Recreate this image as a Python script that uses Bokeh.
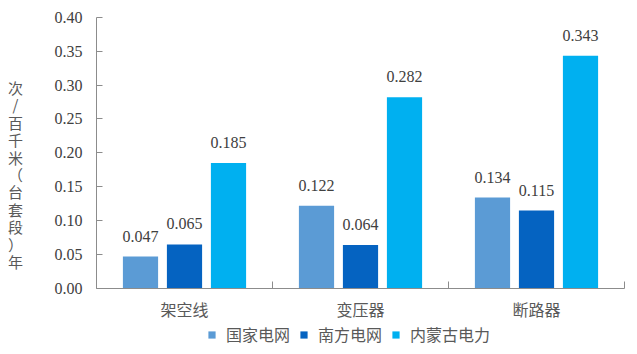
from bokeh.plotting import figure
from bokeh.models import (ColumnDataSource, FixedTicker, LabelSet, Label, Legend,
                          LegendItem, NumeralTickFormatter, Range1d)
from bokeh.embed import file_html
from bokeh.resources import INLINE

categories = ["架空线", "变压器", "断路器"]
series_names = ["国家电网", "南方电网", "内蒙古电力"]
guojia = [0.047, 0.122, 0.134]
nanfang = [0.065, 0.064, 0.115]
neimenggu = [0.185, 0.282, 0.343]
y_ticks = [0.00, 0.05, 0.10, 0.15, 0.20, 0.25, 0.30, 0.35, 0.40]
y_title = "次/百千米（台套段）年"
colors = ["#5B9BD5", "#0563C1", "#00B0F0"]

series = [guojia, nanfang, neimenggu]

# layout (pixels) of the plotting area inside the 637x354 canvas
W, H = 637, 354
L, R, T, B = 96, 624, 16.7, 288
n = len(categories)
ymax = y_ticks[-1]
sx = (R - L) / n          # px per category
sy = (B - T) / ymax       # px per unit


def xd(px):
    return (px - L) / sx


def yd(py):
    return (B - py) / sy


p = figure(width=W, height=H, output_backend="svg", toolbar_location=None,
           x_range=Range1d(xd(0), xd(W)), y_range=Range1d(yd(H), yd(0)),
           min_border=0)
p.outline_line_color = None
p.grid.visible = False
p.background_fill_color = "white"
p.border_fill_color = "white"

CJK = "Noto Sans CJK SC"
SERIF = "Liberation Serif"
TXT = "#595959"
AX = "#8C8C8C"

items = []
for j, (name, vals, col) in enumerate(zip(series_names, series, colors)):
    xs = [i + 0.5 + (j - 1) * 0.25 for i in range(n)]
    src = ColumnDataSource(dict(x=xs, top=vals, label=[f"{v:.3f}" for v in vals]))
    r = p.vbar(x="x", top="top", width=0.2, source=src, fill_color=col, line_color=None)
    items.append(LegendItem(label=name, renderers=[r]))
    labels = LabelSet(x="x", y="top", text="label", source=src, text_align="center",
                      text_baseline="alphabetic", y_offset=15,
                      text_font=SERIF, text_font_size="16px", text_color="#404040")
    p.add_layout(labels)

# x axis
xa = p.xaxis[0]
xa.fixed_location = 0
xa.bounds = (0, n)
xa.ticker = FixedTicker(ticks=[i + 0.5 for i in range(n)],
                        minor_ticks=list(range(n + 1)))
xa.major_label_overrides = {i + 0.5: c for i, c in enumerate(categories)}
xa.major_tick_in = 0
xa.major_tick_out = 0
xa.minor_tick_in = 7
xa.minor_tick_out = 0
xa.minor_tick_line_color = AX
xa.axis_line_color = AX
xa.major_label_standoff = 8
xa.major_label_text_font = CJK
xa.major_label_text_font_size = "16px"
xa.major_label_text_color = TXT

# y axis
ya = p.yaxis[0]
ya.fixed_location = 0
ya.bounds = (0, ymax)
ya.ticker = FixedTicker(ticks=y_ticks, minor_ticks=[])
ya.formatter = NumeralTickFormatter(format="0.00")
ya.major_tick_in = 6
ya.major_tick_out = 0
ya.minor_tick_line_color = None
ya.major_tick_line_color = AX
ya.axis_line_color = AX
ya.major_label_standoff = 14
ya.major_label_text_font = SERIF
ya.major_label_text_font_size = "16px"
ya.major_label_text_color = "#404040"

# vertical y title
p.add_layout(Label(x=xd(15), y=yd(174), text="\n".join(y_title), text_align="center",
                   text_baseline="middle", text_font=CJK, text_font_size="15px",
                   text_color=TXT, text_line_height=0.83))

legend = Legend(items=items, orientation="horizontal", location=(207, 8),
                border_line_color=None, background_fill_alpha=0, padding=0, margin=0,
                spacing=9, glyph_width=9, glyph_height=9, label_standoff=10,
                label_text_font=CJK, label_text_font_size="16px",
                label_text_color=TXT, label_height=18)
p.add_layout(legend)

open("out.html", "w").write(file_html(p, INLINE))
